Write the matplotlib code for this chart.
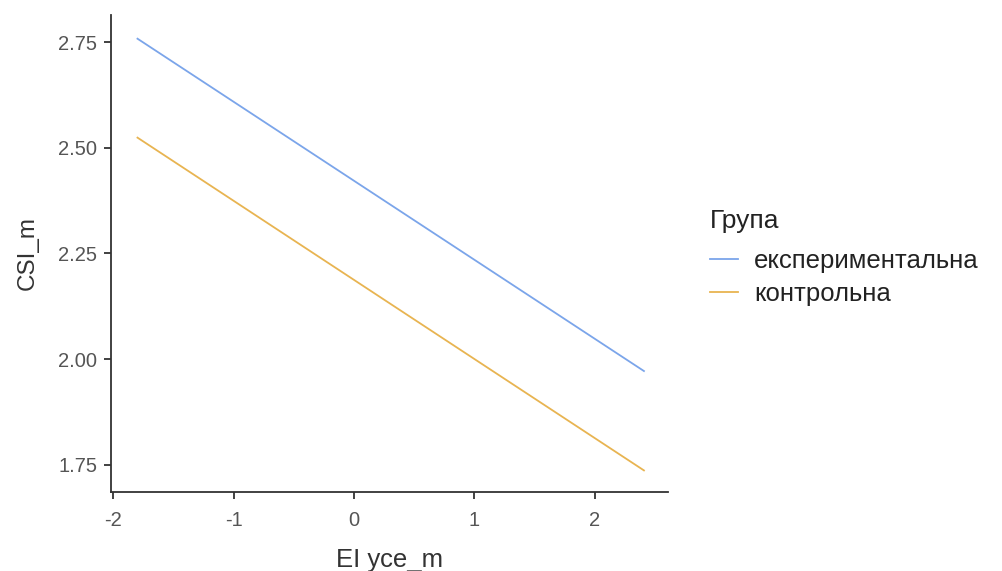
import matplotlib.pyplot as plt
from matplotlib.lines import Line2D

plt.rcParams['font.family'] = ['Liberation Sans', 'DejaVu Sans']

# fitted lines, endpoints per group
groups = ["експериментальна", "контрольна"]
colors = ["#7BA5EA", "#E8B451"]
x_ends = [-1.8, 2.41]
y_exp = [2.758, 1.972]
y_ctl = [2.524, 1.737]

fig = plt.figure(figsize=(10.03, 5.71), dpi=100)
ax = fig.add_axes([0.1107, 0.1384, 0.5553, 0.8353])

for ys, c in zip([y_exp, y_ctl], colors):
    ax.plot(x_ends, ys, color=c, lw=1.3)

ax.set_xlim(-2.02, 2.61)
ax.set_ylim(1.686, 2.814)
ax.set_xticks([-2, -1, 0, 1, 2])
ax.set_xticklabels(["-2", "-1", "0", "1", "2"])
ax.set_yticks([1.75, 2.0, 2.25, 2.5, 2.75])
ax.set_yticklabels(["1.75", "2.00", "2.25", "2.50", "2.75"])

for s in ["top", "right"]:
    ax.spines[s].set_visible(False)
for s in ["left", "bottom"]:
    ax.spines[s].set_color("#333333")
    ax.spines[s].set_linewidth(1.3)
ax.tick_params(colors="#333333", labelcolor="#555555", labelsize=14.5, length=5, width=1.3)
ax.tick_params(axis="x", pad=9)
ax.tick_params(axis="y", pad=5)

ax.set_ylabel("CSI_m", fontsize=17.5, color="#333333", labelpad=14)
ax.set_xlabel("EI усе_m", fontsize=18.5, color="#333333", labelpad=13)

# legend title drawn separately to get the wider gap above the keys
fig.text(0.708, 1 - 228 / 571, "Група", fontsize=19, color="#222222", va="baseline")
handles = [Line2D([0], [0], color=c, lw=1.3) for c in colors]
leg = fig.legend(handles, groups, loc="center left",
                 bbox_to_anchor=(0.708, 1 - 277.5 / 571), frameon=False,
                 fontsize=18.5, handlelength=1.1, handletextpad=0.6,
                 labelspacing=0.35, borderpad=0, borderaxespad=0)
for t in leg.get_texts():
    t.set_color("#222222")

fig.savefig("out.png", dpi=100)
